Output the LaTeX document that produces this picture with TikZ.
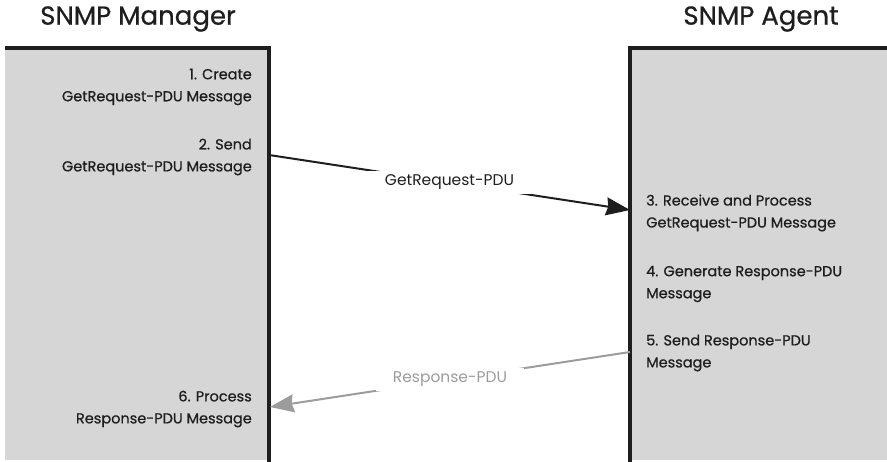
\documentclass[tikz,border=0pt]{standalone}
\usepackage{fontspec}
\setmainfont{Poppins}[FakeBold=0.7]
\newfontfamily\lightface{Poppins}
\usepackage{xcolor}
\usepackage{tikz}
\usetikzlibrary{arrows.meta, positioning}
\definecolor{boxgray}{HTML}{D6D6D6}
\definecolor{replygray}{HTML}{9C9C9C}
\definecolor{inkblack}{HTML}{1E1E1E}

\tikzset{
    steptext/.style={inner sep=0pt, text=inkblack, font=\fontsize{14.5}{22}\selectfont},
    mgrstep/.style={steptext, anchor=east, align=right},
    agtstep/.style={steptext, anchor=west, align=left},
    msglabel/.style={fill=white, inner xsep=17pt, inner ysep=4pt, font=\lightface\fontsize{15.5}{20}\selectfont},
    msgline/.style={line width=2pt, -{Stealth[length=24pt, width=18pt, inset=2pt]}},
    sidetitle/.style={inner sep=0pt, text=inkblack, font=\fontsize{26}{30}\selectfont}
}

\begin{document}
\begin{tikzpicture}[x=1pt, y=-1pt, >=Stealth]
    \useasboundingbox (0, 0) rectangle (887, 462);

    % Boxes
    \fill[boxgray] (5, 48) rectangle (269, 460);
    \draw[line width=3.5pt, inkblack] (5, 48) -- (269, 48) -- (269, 462);
    \fill[boxgray] (630, 48) rectangle (887, 460);
    \draw[line width=3.5pt, inkblack] (630, 462) -- (630, 48) -- (887, 48);

    % Titles
    \node[sidetitle] (manager) at (138, 19) {SNMP Manager};
    \node[sidetitle] (agent) at (761, 19) {SNMP Agent};

    % Manager steps
    \node[mgrstep] (create) at (252, 87) {1. Create\\GetRequest-PDU Message};
    \node[mgrstep] (send) at (252, 157) {2. Send\\GetRequest-PDU Message};
    \node[mgrstep] (process) at (252, 409) {6. Process\\Response-PDU Message};

    % Agent steps
    \node[agtstep] (receive) at (646, 213) {3. Receive and Process\\GetRequest-PDU Message};
    \node[agtstep] (generate) at (646, 284) {4. Generate Response-PDU\\Message};
    \node[agtstep] (reply) at (646, 353) {5. Send Response-PDU\\Message};

    % Messages
    \coordinate (getout) at (269, 155);
    \coordinate (getin) at (630, 210);
    \coordinate (respout) at (630, 352);
    \coordinate (respin) at (270, 407);
    \draw[msgline, inkblack] (getout) -- (getin)
        node[msglabel, midway, text=inkblack] (getpdu) {GetRequest-PDU};
    \draw[msgline, replygray] (respout) -- (respin)
        node[msglabel, midway, text=replygray] (resppdu) {Response-PDU};
\end{tikzpicture}
\end{document}
